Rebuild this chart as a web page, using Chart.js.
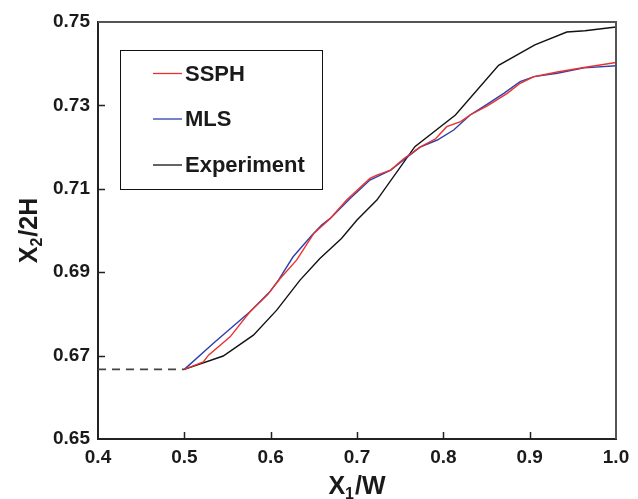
<!DOCTYPE html>
<html>
<head>
<meta charset="utf-8">
<script src="https://cdn.jsdelivr.net/npm/chart.js@4"></script>
<style>
  html, body { margin: 0; padding: 0; background: #fff; }
</style>
</head>
<body>
<canvas id="chart" width="638" height="499"></canvas>
<script>
// values
const ssphX = [0.5, 0.522, 0.528, 0.553, 0.576, 0.596, 0.611, 0.630, 0.650, 0.669, 0.688, 0.715, 0.723, 0.739, 0.754, 0.773, 0.791, 0.804, 0.820, 0.831, 0.851, 0.874, 0.889, 0.905, 0.932, 0.963, 1.0];
const ssphY = [0.6667, 0.6685, 0.6701, 0.6745, 0.6805, 0.6845, 0.6885, 0.6929, 0.6993, 0.7029, 0.7073, 0.7125, 0.7133, 0.7145, 0.7172, 0.7200, 0.7220, 0.7249, 0.7261, 0.7277, 0.7299, 0.7329, 0.7353, 0.7369, 0.7380, 0.7391, 0.7403];

const mlsX = [0.5, 0.534, 0.576, 0.599, 0.609, 0.626, 0.648, 0.659, 0.669, 0.692, 0.715, 0.739, 0.754, 0.773, 0.793, 0.812, 0.831, 0.851, 0.870, 0.889, 0.905, 0.932, 0.963, 1.0];
const mlsY = [0.6667, 0.6730, 0.6805, 0.6853, 0.6881, 0.6937, 0.6989, 0.7013, 0.7029, 0.7077, 0.7121, 0.7145, 0.7169, 0.7200, 0.7217, 0.7241, 0.7277, 0.7303, 0.7329, 0.7357, 0.7369, 0.7377, 0.7390, 0.7395];

const expX = [0.5, 0.545, 0.580, 0.607, 0.634, 0.657, 0.682, 0.700, 0.723, 0.767, 0.814, 0.864, 0.906, 0.943, 0.964, 1.0];
const expY = [0.6667, 0.6699, 0.6749, 0.6809, 0.6881, 0.6933, 0.6981, 0.7025, 0.7073, 0.7201, 0.7277, 0.7396, 0.7445, 0.7476, 0.7479, 0.7488];

// initial level (dashed)
const initX = [0.4, 0.5];
const initY = [0.6667, 0.6667];

const xTicks = [0.4, 0.5, 0.6, 0.7, 0.8, 0.9, 1.0];
const yTicks = [0.65, 0.67, 0.69, 0.71, 0.73, 0.75];

const FONT = "'Liberation Sans', Arial, Helvetica, sans-serif";

function pts(xs, ys) {
    return xs.map((x, i) => ({ x: x, y: ys[i] }));
}

// text with a subscript part, e.g. X_1/W
function drawSubText(ctx, parts, cx, baseY, size) {
    let total = 0;
    parts.forEach((p) => {
        ctx.font = `bold ${p.sub ? Math.round(size * 0.62) : size}px ${FONT}`;
        p.w = ctx.measureText(p.t).width + (p.sub ? 1 : 0);
        total += p.w;
    });
    let x = cx - total / 2;
    parts.forEach((p) => {
        ctx.font = `bold ${p.sub ? Math.round(size * 0.62) : size}px ${FONT}`;
        ctx.fillText(p.t, x, p.sub ? baseY + size * 0.2 : baseY);
        x += p.w;
    });
}

const framePlugin = {
    id: "frame",
    afterDraw(chart) {
        const { ctx, chartArea: a, scales } = chart;
        ctx.save();

        // top and right frame
        ctx.strokeStyle = "#555";
        ctx.lineWidth = 2;
        ctx.beginPath();
        ctx.moveTo(a.left, a.top);
        ctx.lineTo(a.right, a.top);
        ctx.lineTo(a.right, a.bottom);
        ctx.stroke();

        // inward tick marks
        ctx.strokeStyle = "#222";
        ctx.lineWidth = 1.5;
        ctx.beginPath();
        xTicks.slice(1, -1).forEach((v) => {
            const px = Math.round(scales.x.getPixelForValue(v)) + 0.5;
            ctx.moveTo(px, a.bottom);
            ctx.lineTo(px, a.bottom - 7);
        });
        yTicks.slice(1, -1).forEach((v) => {
            const py = Math.round(scales.y.getPixelForValue(v)) + 0.5;
            ctx.moveTo(a.left, py);
            ctx.lineTo(a.left + 7, py);
        });
        ctx.stroke();

        // legend box
        const lx = 120, ly = 50, lw = 202, lh = 139;
        ctx.strokeStyle = "#111";
        ctx.lineWidth = 1;
        ctx.strokeRect(lx + 0.5, ly + 0.5, lw, lh);
        const rows = [73.5, 119, 165];
        chart.data.datasets.filter((d) => d.label).forEach((d, i) => {
            const y = rows[i];
            ctx.strokeStyle = d.borderColor;
            ctx.lineWidth = 1.3;
            ctx.beginPath();
            ctx.moveTo(153, y);
            ctx.lineTo(182, y);
            ctx.stroke();
            ctx.fillStyle = "#1a1a1a";
            ctx.font = `bold 22px ${FONT}`;
            ctx.textBaseline = "middle";
            ctx.textAlign = "left";
            ctx.fillText(d.label, 185, y + 1);
        });

        // axis titles
        ctx.fillStyle = "#1a1a1a";
        ctx.textBaseline = "alphabetic";
        ctx.textAlign = "left";
        drawSubText(ctx, [{ t: "X" }, { t: "1", sub: true }, { t: "/W" }], (a.left + a.right) / 2, 494, 25);

        ctx.translate(37, (a.top + a.bottom) / 2);
        ctx.rotate(-Math.PI / 2);
        drawSubText(ctx, [{ t: "X" }, { t: "2", sub: true }, { t: "/2H" }], 0, 0, 25);

        ctx.restore();
    },
};

new Chart(document.getElementById("chart"), {
    type: "line",
    data: {
        datasets: [
            {
                label: "SSPH",
                data: pts(ssphX, ssphY),
                borderColor: "#e8322c",
                borderWidth: 1.4,
                pointRadius: 0,
                tension: 0,
            },
            {
                label: "MLS",
                data: pts(mlsX, mlsY),
                borderColor: "#2e3fae",
                borderWidth: 1.4,
                pointRadius: 0,
                tension: 0,
            },
            {
                label: "Experiment",
                data: pts(expX, expY),
                borderColor: "#111111",
                borderWidth: 1.4,
                pointRadius: 0,
                tension: 0,
            },
            {
                label: "",
                data: pts(initX, initY),
                borderColor: "#444444",
                borderWidth: 1.6,
                borderDash: [8, 6],
                pointRadius: 0,
            },
        ],
    },
    options: {
        responsive: false,
        animation: false,
        layout: { padding: { top: 22, right: 22, left: 0, bottom: 0 } },
        plugins: {
            legend: { display: false },
            tooltip: { enabled: false },
        },
        scales: {
            x: {
                type: "linear",
                min: 0.4,
                max: 1.0,
                afterBuildTicks: (s) => { s.ticks = xTicks.map((v) => ({ value: v })); },
                afterFit: (s) => { s.height = 60; },
                grid: { display: false, drawTicks: false },
                border: { display: true, color: "#222", width: 2 },
                ticks: {
                    padding: 7,
                    color: "#1a1a1a",
                    font: { family: FONT, size: 19, weight: "bold" },
                    callback: (v) => v.toFixed(1),
                },
            },
            y: {
                min: 0.65,
                max: 0.75,
                afterBuildTicks: (s) => { s.ticks = yTicks.map((v) => ({ value: v })); },
                afterFit: (s) => { s.width = 98; },
                grid: { display: false, drawTicks: false },
                border: { display: true, color: "#222", width: 2 },
                ticks: {
                    padding: 8,
                    color: "#1a1a1a",
                    font: { family: FONT, size: 19, weight: "bold" },
                    callback: (v) => v.toFixed(2),
                },
            },
        },
    },
    plugins: [framePlugin],
});
</script>
</body>
</html>
